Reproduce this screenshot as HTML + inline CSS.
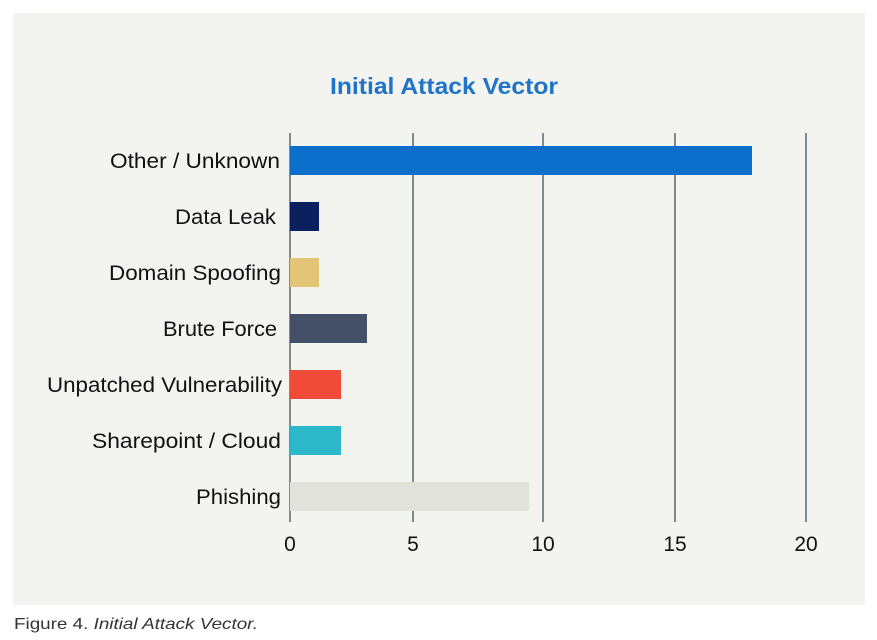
<!DOCTYPE html>
<html><head><style>
body{margin:0;background:#fff;width:877px;height:640px;position:relative;font-family:"Liberation Sans",sans-serif;overflow:hidden}
</style></head><body>
<svg width="877" height="640" style="position:absolute;left:0;top:0">
<rect x="13" y="13" width="852" height="592" fill="#f3f4ef"/>
<text x="330" y="94" textLength="228" lengthAdjust="spacingAndGlyphs" font-size="23" font-weight="bold" fill="#1f74c9" font-family="Liberation Sans,sans-serif">Initial Attack Vector</text>
<g stroke="#5a6478" stroke-width="1.5">
<line x1="290" y1="133" x2="290" y2="522"/>
<line x1="413" y1="133" x2="413" y2="522"/>
<line x1="543" y1="133" x2="543" y2="522"/>
<line x1="675" y1="133" x2="675" y2="522"/>
<line x1="806" y1="133" x2="806" y2="522"/>
</g>
<rect x="290" y="146" width="462" height="29" fill="#0b6fcb"/>
<rect x="290" y="202" width="29" height="29" fill="#0c1f5e"/>
<rect x="290" y="258" width="29" height="29" fill="#e3c577"/>
<rect x="290" y="314" width="77" height="29" fill="#445067"/>
<rect x="290" y="370" width="51" height="29" fill="#f04a38"/>
<rect x="290" y="426" width="51" height="29" fill="#2bb8c9"/>
<rect x="290" y="482" width="239" height="29" fill="#e1e2da"/>
<g font-size="21" fill="#111" font-family="Liberation Sans,sans-serif" lengthAdjust="spacingAndGlyphs">
<text x="110" y="168" textLength="170" lengthAdjust="spacingAndGlyphs">Other / Unknown</text>
<text x="175" y="224" textLength="101" lengthAdjust="spacingAndGlyphs">Data Leak</text>
<text x="109" y="280" textLength="172" lengthAdjust="spacingAndGlyphs">Domain Spoofing</text>
<text x="163" y="336" textLength="114" lengthAdjust="spacingAndGlyphs">Brute Force</text>
<text x="47" y="392" textLength="235" lengthAdjust="spacingAndGlyphs">Unpatched Vulnerability</text>
<text x="92" y="448" textLength="189" lengthAdjust="spacingAndGlyphs">Sharepoint / Cloud</text>
<text x="196" y="504" textLength="85" lengthAdjust="spacingAndGlyphs">Phishing</text>
</g>
<g font-size="21" fill="#111" text-anchor="middle" font-family="Liberation Sans,sans-serif">
<text x="290" y="551">0</text>
<text x="413" y="551">5</text>
<text x="543" y="551">10</text>
<text x="675" y="551">15</text>
<text x="806" y="551">20</text>
</g>
<text x="14" y="629" font-size="16" fill="#333" textLength="244" lengthAdjust="spacingAndGlyphs" font-family="Liberation Sans,sans-serif">Figure 4. <tspan font-style="italic">Initial Attack Vector.</tspan></text>
</svg>
</body></html>
